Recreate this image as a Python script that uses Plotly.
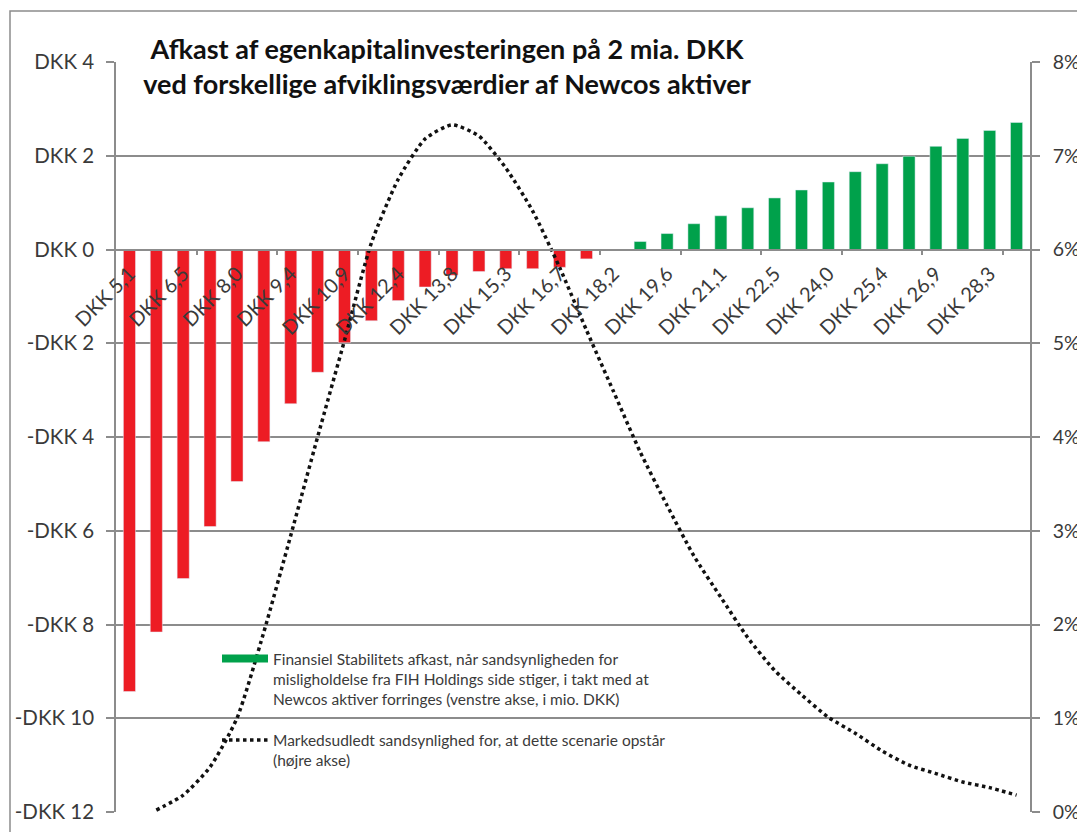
import plotly.graph_objects as go

# ---- data ----
categories = ["DKK 5,1", "DKK 5,8", "DKK 6,5", "DKK 7,3", "DKK 8,0", "DKK 8,7", "DKK 9,4", "DKK 10,2",
              "DKK 10,9", "DKK 11,6", "DKK 12,4", "DKK 13,1", "DKK 13,8", "DKK 14,5", "DKK 15,3", "DKK 16,0",
              "DKK 16,7", "DKK 17,4", "DKK 18,2", "DKK 18,9", "DKK 19,6", "DKK 20,3", "DKK 21,1", "DKK 21,8",
              "DKK 22,5", "DKK 23,2", "DKK 24,0", "DKK 24,7", "DKK 25,4", "DKK 26,1", "DKK 26,9", "DKK 27,6",
              "DKK 28,3", "DKK 29,0"]

afkast_neg = [-9.43, -8.16, -7.02, -5.91, -4.95, -4.10, -3.29, -2.62, -1.99, -1.52, -1.09, -0.80,
              -0.55, -0.47, -0.41, -0.41, -0.38, -0.20] + [None] * 16
afkast_pos = [None] * 19 + [0.17, 0.34, 0.55, 0.72, 0.89, 1.10, 1.27, 1.44, 1.66, 1.83, 1.99, 2.20,
                            2.37, 2.54, 2.71]
sandsynlighed = [None, 0.02, 0.18, 0.48, 1.00, 1.92, 2.95, 4.00, 5.03, 6.07, 6.75, 7.18, 7.33, 7.21,
                 6.87, 6.41, 5.81, 5.14, 4.49, 3.84, 3.27, 2.73, 2.29, 1.86, 1.51, 1.25, 1.01, 0.84,
                 0.65, 0.50, 0.41, 0.32, 0.26, 0.18]

left_tickvals = [4, 2, 0, -2, -4, -6, -8, -10, -12]
left_ticktext = ["DKK 4", "DKK 2", "DKK 0", "-DKK 2", "-DKK 4", "-DKK 6", "-DKK 8", "-DKK 10", "-DKK 12"]
right_tickvals = [0, 1, 2, 3, 4, 5, 6, 7, 8]
right_ticktext = ["0%", "1%", "2%", "3%", "4%", "5%", "6%", "7%", "8%"]

title_lines = ["Afkast af egenkapitalinvesteringen på 2 mia. DKK",
               "ved forskellige afviklingsværdier af Newcos aktiver"]
legend_bar = "Finansiel Stabilitets afkast, når sandsynligheden for<br>misligholdelse fra FIH Holdings side stiger, i takt med at<br>Newcos aktiver forringes (venstre akse, i mio. DKK)"
legend_line = "Markedsudledt sandsynlighed for, at dette scenarie opstår<br>(højre akse)"

# ---- styling ----
FONT = "Lato, Roboto, Arial, sans-serif"
GRID = "#8c8c8c"
RED = "#ED1C24"
GREEN = "#00A14B"
TXT = "#3a3a3a"

x = list(range(len(categories)))
label_idx = x[::2]
label_txt = categories[::2]
minor_ticks = [i - 0.5 for i in range(3, len(categories), 3)]

fig = go.Figure()
fig.add_trace(go.Bar(x=x, y=afkast_neg, marker_color=RED, showlegend=False, width=0.45))
fig.add_trace(go.Bar(x=x, y=afkast_pos, marker_color=GREEN, showlegend=False, width=0.45))
# legend entry for the bar series (wide flat swatch like the original)
fig.add_trace(go.Scatter(x=[None], y=[None], mode="lines", line=dict(color=GREEN, width=8),
                         name=legend_bar, legendgroup="a"))
fig.add_trace(go.Scatter(x=x, y=sandsynlighed, mode="lines", yaxis="y2", name=legend_line,
                         line=dict(color="#111111", width=3.5, dash="dot", shape="spline", smoothing=0.6),
                         legendgroup="b"))

# page body has an 8px margin; figure sized so the plot area lands where it does in the reference
fig.update_layout(
    width=1077, height=824,
    margin=dict(l=108, r=55, t=54, b=20, autoexpand=False),
    paper_bgcolor="white", plot_bgcolor="white",
    barmode="overlay",
    font=dict(family=FONT, color=TXT),
    title=dict(text="<b>" + title_lines[0] + "<br>" + title_lines[1] + "</b>",
               x=(447 - 116) / 914, xref="paper", xanchor="center",
               y=1 - 50.5 / 824, yref="container", yanchor="middle",
               font=dict(family=FONT, size=27, color="#111111")),
    xaxis=dict(range=[-0.5, len(categories) - 0.5], tickmode="array", tickvals=label_idx,
               ticktext=label_txt, tickangle=-45, ticks="", showgrid=False, zeroline=False,
               showline=True, linecolor=GRID, linewidth=1.5, anchor="free", position=12 / 16,
               tickfont=dict(size=20, color=TXT, family=FONT), layer="above traces",
               ticklabelstandoff=4, automargin=False,
               minor=dict(tickmode="array", tickvals=minor_ticks, ticks="outside", ticklen=5,
                          tickcolor=GRID, tickwidth=1.5, showgrid=False)),
    yaxis=dict(range=[-12, 4], tickmode="array", tickvals=left_tickvals, ticktext=left_ticktext,
               showgrid=True, gridcolor=GRID, gridwidth=1.5, zeroline=False, showline=True,
               linecolor=GRID, linewidth=1.5, ticks="outside", ticklen=8, tickcolor=GRID,
               tickwidth=1.5, tickfont=dict(size=20.5, color=TXT, family=FONT), domain=[0, 1],
               ticklabelstandoff=8, automargin=False),
    yaxis2=dict(range=[0, 8], tickmode="array", tickvals=right_tickvals, ticktext=right_ticktext,
                overlaying="y", side="right", showgrid=False, zeroline=False, showline=True,
                linecolor=GRID, linewidth=1.5, ticks="outside", ticklen=8, tickcolor=GRID,
                tickwidth=1.5, tickfont=dict(size=19.5, color=TXT, family=FONT),
                ticklabelstandoff=9, automargin=False),
    legend=dict(x=(217 - 116) / 914, xanchor="left", y=(812 - 642) / 750, yanchor="top",
                bgcolor="rgba(0,0,0,0)", font=dict(size=15.5, color=TXT, family=FONT),
                itemwidth=46, valign="top", tracegroupgap=18, traceorder="grouped"),
    shapes=[dict(type="rect", xref="paper", yref="paper", x0=-106 / 914, x1=1.2,
                 y0=-0.1, y1=(812 - 11) / 750, line=dict(color=GRID, width=1.5), layer="below")],
)

fig.write_html("out.html")
